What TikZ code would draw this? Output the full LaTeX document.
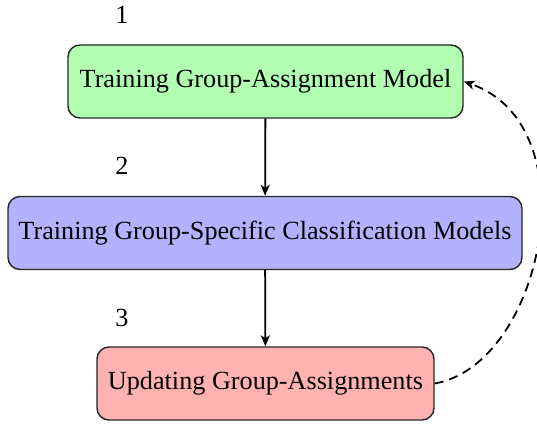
\documentclass[tikz,border=0pt]{standalone}
\usepackage{fontspec}
\setmainfont{Liberation Serif}
\usetikzlibrary{arrows.meta}
\begin{document}
\begin{tikzpicture}[x=1pt,y=1pt,
  box/.style={draw=black!85, line width=1.4pt, rounded corners=12pt, minimum height=73pt, inner xsep=10pt, font=\fontsize{26.2}{30}\selectfont, text=black},
  lbl/.style={font=\fontsize{26.2}{30}\selectfont, inner sep=0pt},
  flow/.style={line width=1.8pt, -{Stealth[length=11pt,width=9pt,inset=3pt]}},
  back/.style={line width=1.8pt, dash pattern=on 9pt off 6pt, -{Stealth[length=11pt,width=9pt,inset=3pt]}}]
\useasboundingbox (0,0) rectangle (537,-430);
\node[box, fill=green!30, minimum width=395pt] (a) at (265.5,-81.5) {Training Group-Assignment Model};
\node[box, fill=blue!30, minimum width=514pt] (b) at (265,-233) {Training Group-Specific Classification Models};
\node[box, fill=red!30, minimum width=337pt] (c) at (265.5,-383.5) {Updating Group-Assignments};
\node[lbl] (n1) at (122,-15) {1};
\node[lbl] (n2) at (122,-166) {2};
\node[lbl] (n3) at (122,-318) {3};
\draw[flow] (a) -- (b);
\draw[flow] (b) -- (c);
\draw[back] (c.east) .. controls +(10:110) and +(-19:135) .. (a.east);
\end{tikzpicture}
\end{document}
